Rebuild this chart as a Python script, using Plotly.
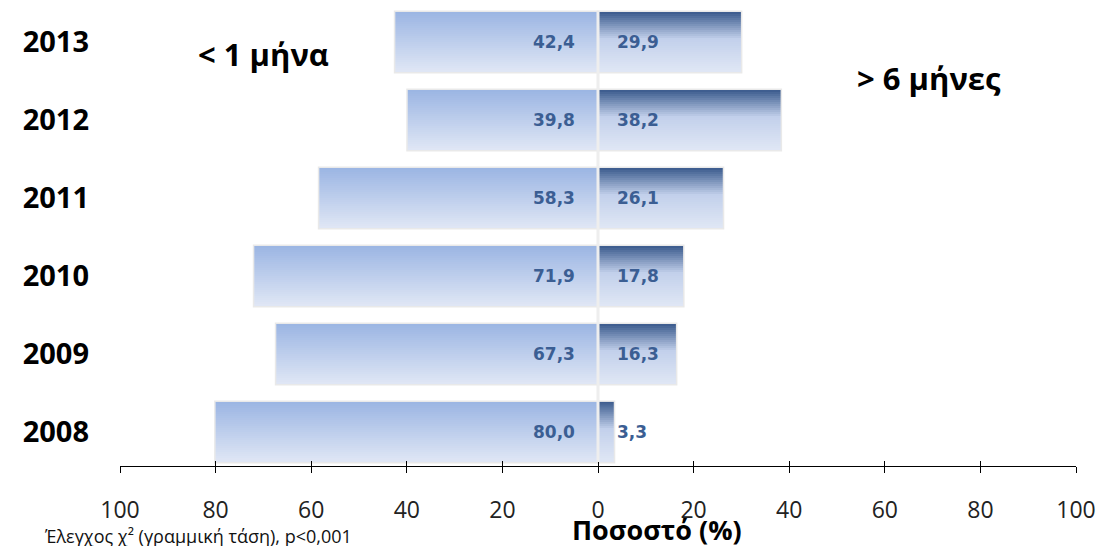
import plotly.graph_objects as go

years = ["2008", "2009", "2010", "2011", "2012", "2013"]
less_1_month = [80.0, 67.3, 71.9, 58.3, 39.8, 42.4]
more_6_months = [3.3, 16.3, 17.8, 26.1, 38.2, 29.9]
tick_vals = [-100, -80, -60, -40, -20, 0, 20, 40, 60, 80, 100]
tick_text = ["100", "80", "60", "40", "20", "0", "20", "40", "60", "80", "100"]

def fmt(v):
    return f"{v:.1f}".replace(".", ",")

def hex2rgb(h):
    h = h.lstrip("#")
    return tuple(int(h[i:i + 2], 16) for i in (0, 2, 4))

def interp(stops, t):
    for (t0, c0), (t1, c1) in zip(stops, stops[1:]):
        if t0 <= t <= t1:
            f = (t - t0) / (t1 - t0) if t1 > t0 else 0
            a, b = hex2rgb(c0), hex2rgb(c1)
            return "rgb(%d,%d,%d)" % tuple(round(a[i] + (b[i] - a[i]) * f) for i in range(3))
    return stops[-1][1]

left_stops = [(0.0, "#9bb5e3"), (1.0, "#e0e7f5")]
right_stops = [(0.0, "#3a5a8c"), (0.45, "#c2d0eb"), (1.0, "#e0e7f5")]

W = 0.77
N = 30
neg = [-v for v in less_1_month]

fig = go.Figure()
for vals, stops in ((neg, left_stops), (more_6_months, right_stops)):
    fig.add_trace(go.Bar(y=years, x=vals, orientation="h", width=W, offset=-W / 2,
                         marker=dict(color=stops[-1][1], line=dict(color="#e9e9e9", width=3)),
                         hoverinfo="skip", showlegend=False))
for vals, stops in ((neg, left_stops), (more_6_months, right_stops)):
    for k in range(N):
        t = 1 - (k + 0.5) / N
        fig.add_trace(go.Bar(y=years, x=vals, orientation="h", width=W / N * 1.02,
                             offset=-W / 2 + k * W / N,
                             marker=dict(color=interp(stops, t), line=dict(width=0)),
                             hoverinfo="skip", showlegend=False))
fig.add_trace(go.Scatter(x=[None], y=[None], xaxis="x2", yaxis="y", showlegend=False, hoverinfo="skip"))

lab_font = dict(family="DejaVu Sans", size=17, color="#3b5e93", weight="bold")
ann = []
for i, (a, b) in enumerate(zip(less_1_month, more_6_months)):
    ann.append(dict(x=-4.4, y=i, xref="x", yref="y", text=fmt(a), showarrow=False,
                    xanchor="right", yanchor="middle", font=lab_font))
    ann.append(dict(x=3.6, y=i, xref="x", yref="y", text=fmt(b), showarrow=False,
                    xanchor="left", yanchor="middle", font=lab_font))

ann += [
    dict(x=(196 - 120) / 956, y=1 - 54 / 466, xref="paper", yref="paper", text="< 1 μήνα",
         showarrow=False, xanchor="left", yanchor="middle",
         font=dict(family="Open Sans", size=31, color="#000000", weight="bold")),
    dict(x=(855 - 120) / 956, y=1 - 78 / 466, xref="paper", yref="paper", text="> 6 μήνες",
         showarrow=False, xanchor="left", yanchor="middle",
         font=dict(family="Open Sans", size=31, color="#000000", weight="bold")),
    dict(x=(657 - 120) / 956, y=1 - 529 / 466, xref="paper", yref="paper", text="Ποσοστό (%)",
         showarrow=False, xanchor="center", yanchor="middle",
         font=dict(family="Open Sans", size=27, color="#000000", weight="bold")),
    dict(x=(42 - 120) / 956, y=1 - 536 / 466, xref="paper", yref="paper",
         text="Έλεγχος χ² (γραμμική τάση), p<0,001",
         showarrow=False, xanchor="left", yanchor="middle",
         font=dict(family="Open Sans", size=18, color="#111111")),
]

fig.update_layout(
    width=1105, height=546,
    margin=dict(l=120, r=29, t=0, b=80),
    paper_bgcolor="white", plot_bgcolor="white",
    barmode="overlay",
    annotations=ann,
    shapes=[dict(type="line", xref="x", yref="y", x0=0, x1=0, y0=-W / 2, y1=5 + W / 2,
                 line=dict(color="#eeeeee", width=3), layer="above")],
    xaxis=dict(range=[-100, 100], tickvals=tick_vals, ticktext=tick_text,
               showgrid=False, zeroline=False, showline=True, linecolor="#000000", linewidth=1.3,
               ticks="outside", ticklen=6, tickcolor="#000000", tickwidth=1.3,
               ticklabelstandoff=17,
               tickfont=dict(family="Open Sans", size=23, color="#222222")),
    xaxis2=dict(range=[-100, 100], tickvals=tick_vals, overlaying="x", anchor="y",
                showgrid=False, zeroline=False, showline=False, showticklabels=False,
                ticks="inside", ticklen=5, tickcolor="#000000", tickwidth=1.3, side="bottom"),
    yaxis=dict(type="category", categoryorder="array", categoryarray=years,
               range=[-0.436, 5.538], showgrid=False, zeroline=False, showline=False,
               ticks="", ticklabelstandoff=30,
               tickfont=dict(family="Open Sans", size=29, color="#000000", weight="bold")),
)

fig.write_html("out.html", post_script="document.body.style.margin='0';",
               config={"displayModeBar": False})
